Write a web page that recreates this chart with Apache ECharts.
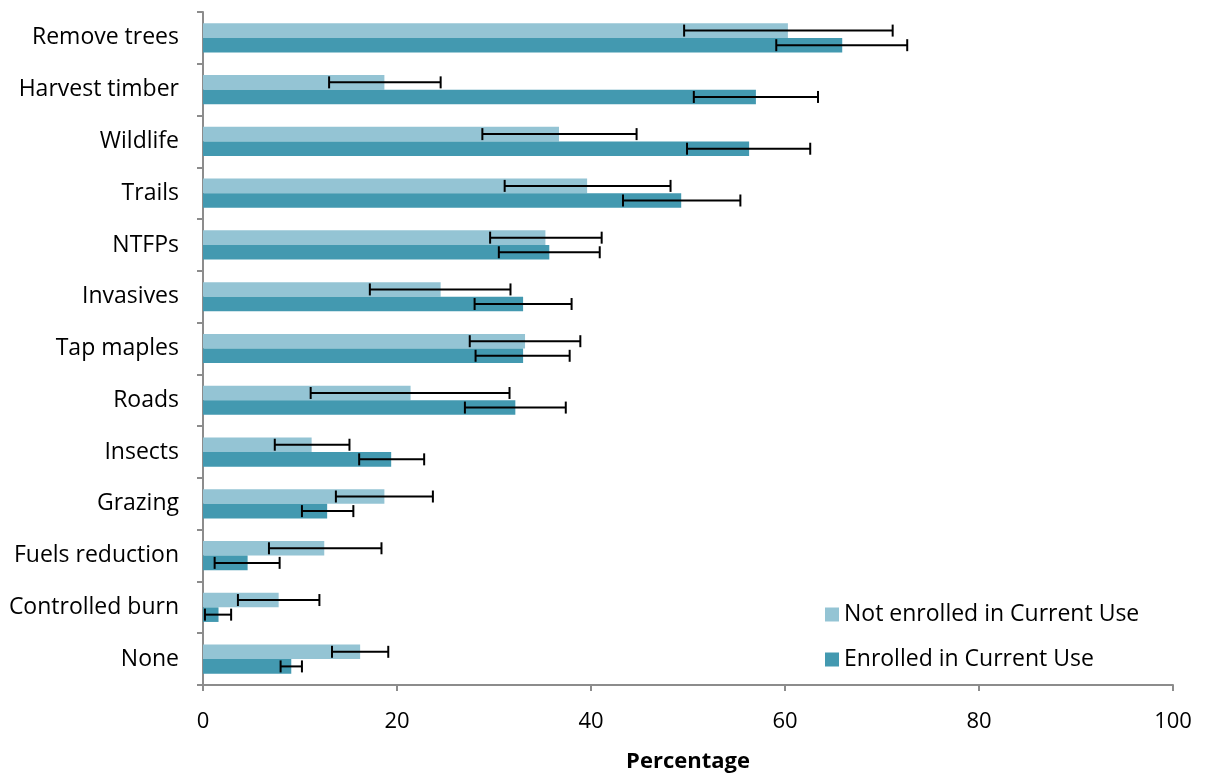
<!DOCTYPE html>
<html>
<head>
<meta charset="utf-8">
<script src="https://cdn.jsdelivr.net/npm/echarts@6/dist/echarts.min.js"></script>
<style>
  html, body { margin: 0; padding: 0; background: #fff; }
  #main { width: 1205px; height: 778px; }
</style>
</head>
<body>
<div id="main"></div>
<script>
var categories = ['Remove trees', 'Harvest timber', 'Wildlife', 'Trails', 'NTFPs', 'Invasives',
    'Tap maples', 'Roads', 'Insects', 'Grazing', 'Fuels reduction', 'Controlled burn', 'None'];

// Not enrolled in Current Use
var notEnrolled = [60.3, 18.7, 36.7, 39.6, 35.3, 24.5, 33.2, 21.4, 11.2, 18.7, 12.5, 7.8, 16.2];
var notLow      = [49.6, 13.0, 28.8, 31.1, 29.6, 17.2, 27.5, 11.1, 7.4, 13.7, 6.8, 3.6, 13.3];
var notHigh     = [71.1, 24.5, 44.7, 48.2, 41.1, 31.7, 38.9, 31.6, 15.1, 23.7, 18.4, 12.0, 19.1];

// Enrolled in Current Use
var enrolled = [65.9, 57.0, 56.3, 49.3, 35.7, 33.0, 33.0, 32.2, 19.4, 12.8, 4.6, 1.6, 9.1];
var enrLow   = [59.1, 50.6, 49.9, 43.3, 30.5, 28.0, 28.1, 27.0, 16.1, 10.2, 1.2, 0.2, 8.0];
var enrHigh  = [72.6, 63.4, 62.6, 55.4, 40.9, 38.0, 37.8, 37.4, 22.8, 15.5, 7.9, 2.9, 10.2];

var xTicks = [0, 20, 40, 60, 80, 100];

var lightColor = '#94c4d4';
var darkColor = '#4399b0';
var barW = 14.6;

function errData(low, high) {
    return categories.map(function (c, i) {
        return [i, low[i], high[i]];
    });
}

// draws one error bar; shift moves it up/down onto its bar
function makeErr(shift) {
    return function (params, api) {
        var i = api.value(0);
        var p1 = api.coord([api.value(1), i]);
        var p2 = api.coord([api.value(2), i]);
        var y = p1[1] + shift;
        var cap = 6;
        var style = { stroke: '#000', lineWidth: 2 };
        return {
            type: 'group',
            children: [
                { type: 'line', shape: { x1: p1[0], y1: y, x2: p2[0], y2: y }, style: style },
                { type: 'line', shape: { x1: p1[0], y1: y - cap, x2: p1[0], y2: y + cap }, style: style },
                { type: 'line', shape: { x1: p2[0], y1: y - cap, x2: p2[0], y2: y + cap }, style: style }
            ]
        };
    };
}

var font = 'Open Sans';

var myChart = echarts.init(document.getElementById('main'));

var option = {
    animation: false,
    textStyle: { fontFamily: font },
    grid: {
        left: 203,
        right: 32,
        top: 12,
        bottom: 91
    },
    legend: {
        orient: 'vertical',
        left: 820,
        top: 598,
        icon: 'rect',
        itemWidth: 14,
        itemHeight: 14,
        itemGap: 22,
        textStyle: { fontSize: 23, color: '#000', fontFamily: font },
        data: ['Not enrolled in Current Use', 'Enrolled in Current Use']
    },
    xAxis: {
        type: 'value',
        min: 0,
        max: 100,
        interval: 20,
        name: 'Percentage',
        nameLocation: 'middle',
        nameGap: 66,
        nameTextStyle: { fontSize: 22, fontWeight: 'bold', color: '#000', fontFamily: font },
        axisLine: { show: true, lineStyle: { color: '#8c8c8c', width: 2 } },
        axisTick: { show: true, length: 6, lineStyle: { color: '#8c8c8c', width: 2 } },
        axisLabel: { fontSize: 22, color: '#000', margin: 26,
            formatter: function (v) { return xTicks.indexOf(v) >= 0 ? String(v) : ''; } },
        splitLine: { show: false }
    },
    yAxis: {
        type: 'category',
        inverse: true,
        data: categories,
        axisLine: { lineStyle: { color: '#8c8c8c', width: 2 } },
        axisTick: { show: true, length: 6, lineStyle: { color: '#8c8c8c', width: 2 } },
        axisLabel: { fontSize: 23, color: '#000', margin: 24, padding: [5, 0, 0, 0] }
    },
    series: [
        {
            name: 'Not enrolled in Current Use',
            type: 'bar',
            barWidth: barW,
            barGap: '0%',
            itemStyle: { color: lightColor },
            data: notEnrolled
        },
        {
            name: 'Enrolled in Current Use',
            type: 'bar',
            barWidth: barW,
            barGap: '0%',
            itemStyle: { color: darkColor },
            data: enrolled
        },
        {
            type: 'custom',
            renderItem: makeErr(-barW / 2),
            encode: { x: [1, 2], y: 0 },
            z: 5,
            data: errData(notLow, notHigh)
        },
        {
            type: 'custom',
            renderItem: makeErr(barW / 2),
            encode: { x: [1, 2], y: 0 },
            z: 5,
            data: errData(enrLow, enrHigh)
        }
    ]
};

myChart.setOption(option);
</script>
</body>
</html>
